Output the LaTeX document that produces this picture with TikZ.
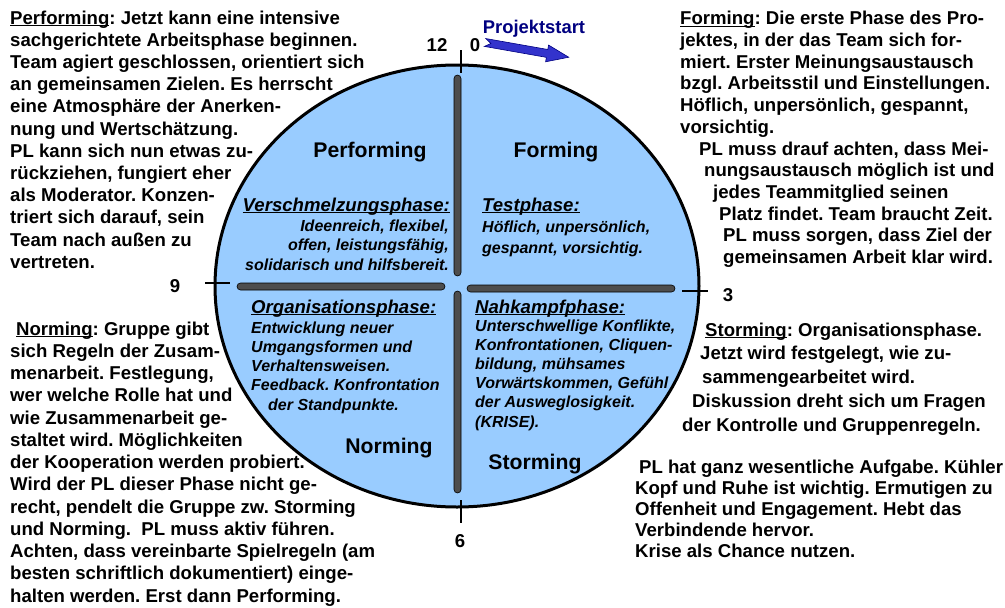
\documentclass[tikz,border=0pt]{standalone}
\usepackage{fontspec}
\setmainfont{Liberation Sans}
\frenchspacing
\usetikzlibrary{positioning}
\definecolor{wheel}{RGB}{153,204,255}
\definecolor{barfill}{RGB}{77,77,77}
\definecolor{arrowblue}{RGB}{51,51,204}
\definecolor{navy}{RGB}{0,0,128}
\newcommand{\ulword}[1]{\underline{\smash{#1}}}

\begin{document}
\begin{tikzpicture}[x=1pt, y=-1pt,
  blk/.style={anchor=base west, align=left, inner sep=0pt,
              font=\fontsize{18.6}{22.2}\selectfont\bfseries},
  head/.style={anchor=base west, inner sep=0pt,
               font=\fontsize{18.6}{22}\selectfont\bfseries\itshape},
  ital/.style={anchor=base west, align=left, inner sep=0pt,
               font=\fontsize{16}{19.2}\selectfont\bfseries\itshape},
  phase/.style={anchor=base, inner sep=0pt,
                font=\fontsize{21.2}{24}\selectfont\bfseries},
  num/.style={inner sep=0pt, font=\fontsize{18.6}{22}\selectfont\bfseries},
  bar/.style={draw=black, line width=0.6pt, fill=barfill, rounded corners=3.5pt},
  tick/.style={line width=2.5pt}
]
\useasboundingbox (0,0) rectangle (1005,608);

% ── Wheel ─────────────────────────────
\draw[fill=wheel, line width=3pt] (457,286) ellipse [x radius=242, y radius=221];

\draw[bar] (454,75) rectangle (461,276);
\draw[bar] (454,291) rectangle (461,493);
\draw[bar] (237,283) rectangle (445,290);
\draw[bar] (467,285) rectangle (675,292);

% ── Clock ticks ───────────────────────
\draw[tick] (461,50) -- (461,73);
\draw[tick] (461,500) -- (461,523);
\draw[tick] (205,283) -- (230,283);
\draw[tick] (682,291) -- (708,291);

\node[num] (n12) at (437,45)  {12};
\node[num] (n0)  at (475,45)  {0};
\node[num] (n9)  at (175,286) {9};
\node[num] (n3)  at (728,295) {3};
\node[num] (n6)  at (460,541) {6};

% ── Projektstart ──────────────────────
\node[inner sep=0pt, text=navy, font=\fontsize{18.4}{22}\selectfont\bfseries]
  (start) at (534,29) {Projektstart};
\begin{scope}[shift={(488,43)}, rotate=-10]
  \filldraw[fill=arrowblue, draw=navy, line width=0.6pt]
    (-3,-4) -- (60,-4) -- (60,-8.5) -- (82,0) -- (60,8.5) -- (60,4)
    -- (-3,4) -- (3,0) -- cycle;
\end{scope}

% ── Quadrant names ────────────────────
\node[phase] (perf)  at (370,157) {Performing};
\node[phase] (form)  at (556,157) {Forming};
\node[phase] (norm)  at (389,453) {Norming};
\node[phase] (storm) at (535,469) {Storming};

% ── Inner descriptions (nodes sit on their last baseline) ──
\node[head, anchor=base east] (verh) at (450,211) {\ulword{Verschmelzungsphase:}};
\node[ital, anchor=base east, align=right] (verb) at (449,270)
  {Ideenreich, flexibel,\\offen, leistungsfähig,\\solidarisch und hilfsbereit.};

\node[head] (testh) at (482,211) {\ulword{Testphase:}};
\node[ital, font=\fontsize{16}{21}\selectfont\bfseries\itshape] (testb) at (482,253)
  {Höflich, unpersönlich,\\gespannt, vorsichtig.};

\node[head] (orgh) at (251,313) {\ulword{Organisationsphase:}};
\node[ital] (orgb) at (251,410)
  {Entwicklung neuer\\Umgangsformen und\\Verhaltensweisen.\\Feedback. Konfrontation\\
   \hspace*{17pt}der Standpunkte.};

\node[head] (nahh) at (475,313) {\ulword{Nahkampfphase:}};
\node[ital] (nahb) at (475,427)
  {Unterschwellige Konflikte,\\Konfrontationen, Cliquen-\\bildung, mühsames\\
   Vorwärtskommen, Gefühl\\der Ausweglosigkeit.\\(KRISE).};

% ── Outer texts ───────────────────────
\node[blk] (perftext) at (10,268.2)
  {\ulword{Performing}: Jetzt kann eine intensive\\
   sachgerichtete Arbeitsphase beginnen.\\
   Team agiert geschlossen, orientiert sich\\
   an gemeinsamen Zielen. Es herrscht\\
   eine Atmosphäre der Anerken-\\
   nung und Wertschätzung.\\
   PL kann sich nun etwas zu-\\
   rückziehen, fungiert eher\\
   als Moderator. Konzen-\\
   triert sich darauf, sein\\
   Team nach außen zu\\
   vertreten.};

\node[blk, font=\fontsize{18.6}{21.7}\selectfont\bfseries] (formtext) at (680,263.5)
  {\ulword{Forming}: Die erste Phase des Pro-\\
   jektes, in der das Team sich for-\\
   miert. Erster Meinungsaustausch\\
   bzgl. Arbeitsstil und Einstellungen.\\
   Höflich, unpersönlich, gespannt,\\
   vorsichtig.\\
   \hspace*{19pt}PL muss drauf achten, dass Mei-\\
   \hspace*{24pt}nungsaustausch möglich ist und\\
   \hspace*{33pt}jedes Teammitglied seinen\\
   \hspace*{39pt}Platz findet. Team braucht Zeit.\\
   \hspace*{43pt}PL muss sorgen, dass Ziel der\\
   \hspace*{43pt}gemeinsamen Arbeit klar wird.};

\node[blk, font=\fontsize{18.6}{22.25}\selectfont\bfseries] (normtext) at (10,602)
  {\hspace*{6pt}\ulword{Norming}: Gruppe gibt\\
   sich Regeln der Zusam-\\
   menarbeit. Festlegung,\\
   wer welche Rolle hat und\\
   wie Zusammenarbeit ge-\\
   staltet wird. Möglichkeiten\\
   der Kooperation werden probiert.\\
   Wird der PL dieser Phase nicht ge-\\
   recht, pendelt die Gruppe zw. Storming\\
   und Norming.\ \ PL muss aktiv führen.\\
   Achten, dass vereinbarte Spielregeln (am\\
   besten schriftlich dokumentiert) einge-\\
   halten werden. Erst dann Performing.};

\node[blk, font=\fontsize{18.6}{23.75}\selectfont\bfseries] (stormtext) at (682,431)
  {\hspace*{23pt}\ulword{Storming}: Organisationsphase.\\
   \hspace*{18pt}Jetzt wird festgelegt, wie zu-\\
   \hspace*{20pt}sammengearbeitet wird.\\
   \hspace*{10pt}Diskussion dreht sich um Fragen\\
   der Kontrolle und Gruppenregeln.};

\node[blk, font=\fontsize{18.6}{21}\selectfont\bfseries] (pltext) at (635,557)
  {\hspace*{4pt}PL hat ganz wesentliche Aufgabe. Kühler\\
   Kopf und Ruhe ist wichtig. Ermutigen zu\\
   Offenheit und Engagement. Hebt das\\
   Verbindende hervor.\\
   Krise als Chance nutzen.};

\end{tikzpicture}
\end{document}
